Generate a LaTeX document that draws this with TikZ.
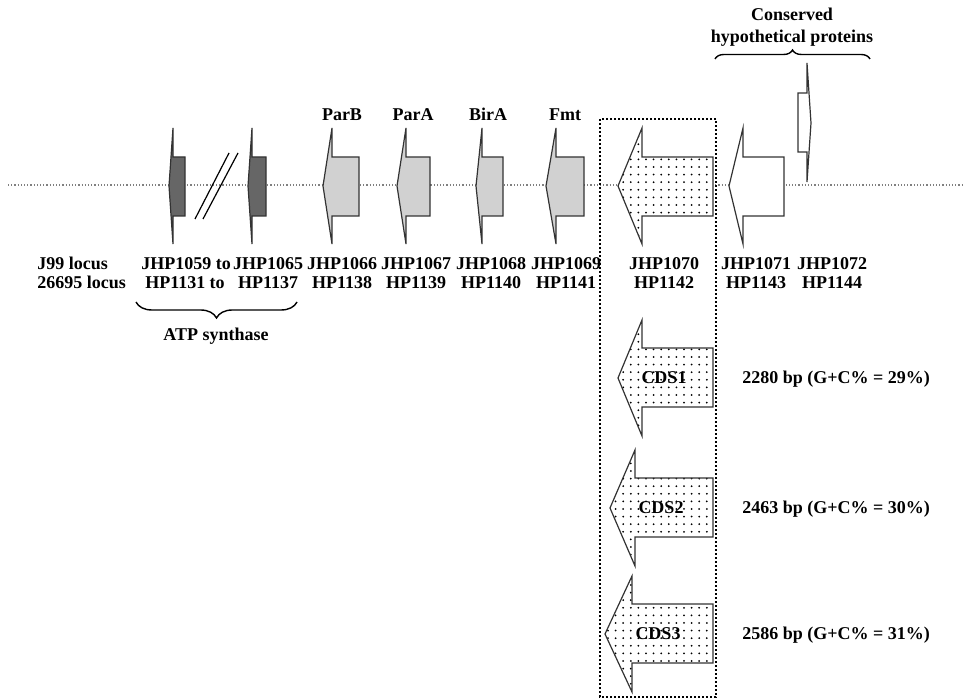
\documentclass[tikz,border=0pt]{standalone}
\usepackage{fontspec}
\setmainfont{Liberation Serif}
\usetikzlibrary{patterns,decorations.pathreplacing}
\pgfdeclarepatternformonly{sparsedots}{\pgfqpoint{-1pt}{-1pt}}{\pgfqpoint{2.8pt}{2.8pt}}{\pgfqpoint{3.8pt}{3.8pt}}{\pgfpathcircle{\pgfqpoint{0pt}{0pt}}{0.5pt}\pgfusepath{fill}}
\begin{document}
\begin{tikzpicture}[x=0.5pt,y=-0.5pt,
  gene/.style={draw=black!80,line width=0.6pt,line join=miter},
  darkgene/.style={gene,fill=black!60},
  lightgene/.style={gene,fill=black!18},
  opengene/.style={gene,fill=white},
  dotgene/.style={gene,preaction={fill=white},pattern=sparsedots},
  lbl/.style={font=\fontsize{9}{10}\selectfont\bfseries,inner sep=0pt,
    text height=1.6ex,text depth=0.3ex},
  bracket/.style={decorate,line width=0.7pt}]
  \useasboundingbox (0,0) rectangle (964,699);
  % backbone
  \draw[gray,densely dotted,line width=0.6pt] (8,185) -- (964,185);
  % ATP synthase genes
  \foreach \tip/\sp/\rt in {169/173/185, 248/252/266}
    \draw[darkgene] (\tip,186) -- (\sp,128) -- (\sp,157) -- (\rt,157)
      -- (\rt,216) -- (\sp,216) -- (\sp,244) -- cycle;
  \draw[line width=0.6pt] (195,219) -- (229,153);
  \draw[line width=0.6pt] (203,219) -- (238,153);
  % ParB, ParA, BirA, Fmt
  \foreach \tip/\sp/\rt in {323/332/359, 397/406/430, 476/482/503, 546/556/584}
    \draw[lightgene] (\tip,186) -- (\sp,128) -- (\sp,157) -- (\rt,157)
      -- (\rt,216) -- (\sp,216) -- (\sp,244) -- cycle;
  % JHP1070
  \draw[dotgene] (618,186) -- (642,128) -- (642,157) -- (713,157)
    -- (713,216) -- (642,216) -- (642,244) -- cycle;
  % conserved hypothetical proteins
  \draw[opengene] (729,186) -- (743,128) -- (743,157) -- (784,157)
    -- (784,216) -- (743,216) -- (743,244) -- cycle;
  \draw[opengene] (798,93) -- (807,93) -- (807,63) -- (811,123)
    -- (807,182) -- (807,152) -- (798,152) -- cycle;
  % CDS variants
  \foreach \yc/\tip/\sp in {378/618/642, 508/610/635, 634/605/632}
    \draw[dotgene] (\tip,\yc) -- (\sp,\yc-58) -- (\sp,\yc-30) -- (713,\yc-30)
      -- (713,\yc+29) -- (\sp,\yc+29) -- (\sp,\yc+58) -- cycle;
  \draw[densely dotted,line width=1pt] (600,119) rectangle (716,697);
  % braces
  \draw[bracket,decoration={brace,amplitude=4.5pt}] (715,59) -- (870,59);
  \draw[bracket,decoration={brace,amplitude=8pt}] (297,302) -- (136,302);
  % labels
  \node[lbl] (conserved) at (792,15) {Conserved};
  \node[lbl] (hypo) at (792,37) {hypothetical proteins};
  \node[lbl] (parB) at (342,115) {ParB};
  \node[lbl] (parA) at (413,115) {ParA};
  \node[lbl] (birA) at (488,115) {BirA};
  \node[lbl] (fmt) at (565,115) {Fmt};
  \node[lbl,anchor=west] (jlocus) at (37,264) {J99 locus};
  \node[lbl,anchor=west] (hlocus) at (37,283) {26695 locus};
  \node[lbl] (j1059) at (186,264) {JHP1059 to};
  \node[lbl] (j1065) at (268,264) {JHP1065};
  \node[lbl] (h1131) at (185,283) {HP1131 to};
  \node[lbl] (h1137) at (268,283) {HP1137};
  \node[lbl] (j1066) at (342,264) {JHP1066};
  \node[lbl] (h1138) at (342,283) {HP1138};
  \node[lbl] (j1067) at (416,264) {JHP1067};
  \node[lbl] (h1139) at (416,283) {HP1139};
  \node[lbl] (j1068) at (491,264) {JHP1068};
  \node[lbl] (h1140) at (491,283) {HP1140};
  \node[lbl] (j1069) at (566,264) {JHP1069};
  \node[lbl] (h1141) at (566,283) {HP1141};
  \node[lbl] (j1070) at (664,264) {JHP1070};
  \node[lbl] (h1142) at (664,283) {HP1142};
  \node[lbl] (j1071) at (756,264) {JHP1071};
  \node[lbl] (h1143) at (756,283) {HP1143};
  \node[lbl] (j1072) at (832,264) {JHP1072};
  \node[lbl] (h1144) at (832,283) {HP1144};
  \node[lbl] (atp) at (216,335) {ATP synthase};
  \node[lbl] (cds1) at (664,378) {CDS1};
  \node[lbl] (cds2) at (661,508) {CDS2};
  \node[lbl] (cds3) at (658,634) {CDS3};
  \node[lbl,anchor=west] (bp1) at (742,378) {2280 bp (G+C\% = 29\%)};
  \node[lbl,anchor=west] (bp2) at (742,508) {2463 bp (G+C\% = 30\%)};
  \node[lbl,anchor=west] (bp3) at (742,634) {2586 bp (G+C\% = 31\%)};
\end{tikzpicture}
\end{document}
